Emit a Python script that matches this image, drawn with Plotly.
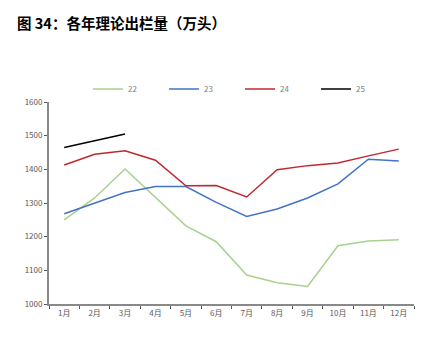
import plotly.graph_objects as go

months = ["1月", "2月", "3月", "4月", "5月", "6月", "7月", "8月", "9月", "10月", "11月", "12月"]
s22 = [1250, 1315, 1401, 1315, 1232, 1185, 1086, 1063, 1052, 1173, 1187, 1191]
s23 = [1268, 1300, 1331, 1349, 1349, 1302, 1260, 1282, 1315, 1357, 1430, 1425]
s24 = [1413, 1445, 1455, 1427, 1351, 1352, 1318, 1399, 1411, 1419, 1440, 1460]
s25 = [1465, 1485, 1505]

series = [("22", s22, "#A9D18E"), ("23", s23, "#4472C4"), ("24", s24, "#C0282E"), ("25", s25, "#000000")]

fig = go.Figure()
for name, vals, col in series:
    fig.add_trace(go.Scatter(x=months[:len(vals)], y=vals, name=name, mode="lines",
                             line=dict(color=col, width=1.5)))

font = "Noto Sans CJK SC, sans-serif"
fig.update_layout(
    width=425, height=343,
    margin=dict(l=49, r=11, t=102, b=39),
    paper_bgcolor="white", plot_bgcolor="white",
    font=dict(family=font, size=8, color="#595959"),
    title=dict(text="<b>图 34：各年理论出栏量（万头）</b>", x=17/425, xanchor="left",
               xref="container", y=1-24/343, yref="container", yanchor="middle",
               font=dict(size=14.5, color="#000000", family=font)),
    showlegend=True,
    legend=dict(orientation="h", x=(88-49)/365, xanchor="left", y=1+(102-89)/202, yanchor="middle",
                entrywidth=31, entrywidthmode="pixels", font=dict(size=8, color="#7f7f7f"),
                bgcolor="rgba(0,0,0,0)", itemwidth=30),
    xaxis=dict(type="category", range=[-0.5, 11.5], showline=True, linecolor="#898989", linewidth=2,
               ticks="outside", tickson="boundaries", ticklen=3, tickcolor="#595959",
               showgrid=False, zeroline=False),
    yaxis=dict(range=[1000, 1600], dtick=100, showline=True, linecolor="#898989", linewidth=2,
               ticks="outside", ticklen=3, tickcolor="#595959", showgrid=False, zeroline=False),
)
fig.write_html("out.html")
